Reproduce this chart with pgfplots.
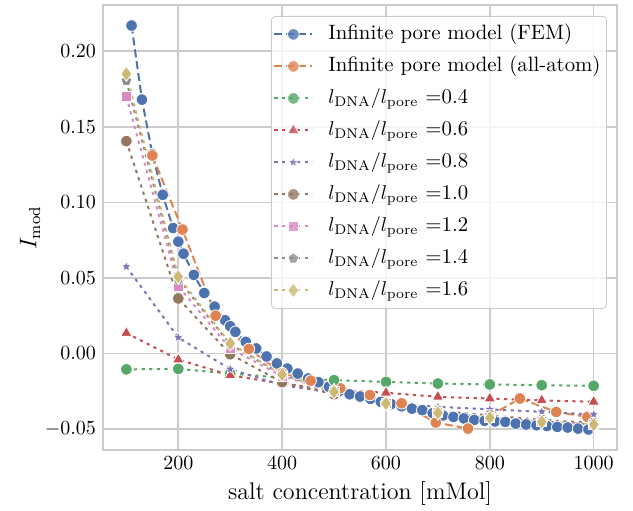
\documentclass[border=0pt]{standalone}
\usepackage{pgfplots}
\pgfplotsset{compat=1.18}
\usetikzlibrary{plotmarks}
\definecolor{cB}{HTML}{4C72B0}
\definecolor{cO}{HTML}{DD8452}
\definecolor{cG}{HTML}{55A868}
\definecolor{cR}{HTML}{C44E52}
\definecolor{cP}{HTML}{8172B3}
\definecolor{cN}{HTML}{937860}
\definecolor{cK}{HTML}{DA8BC3}
\definecolor{cY}{HTML}{8C8C8C}
\definecolor{cD}{HTML}{CCB974}
\definecolor{gridc}{HTML}{CCCCCC}
\newcommand\fs{\fontsize{10.4}{12.5}\selectfont}
\newcommand\fl{\fontsize{12}{14.4}\selectfont}
\pgfdeclareplotmark{fstar}{%
 \pgfpathmoveto{\pgfpointpolar{90}{\pgfplotmarksize}}%
 \pgfpathlineto{\pgfpointpolar{126}{0.45\pgfplotmarksize}}%
 \pgfpathlineto{\pgfpointpolar{162}{\pgfplotmarksize}}%
 \pgfpathlineto{\pgfpointpolar{198}{0.45\pgfplotmarksize}}%
 \pgfpathlineto{\pgfpointpolar{234}{\pgfplotmarksize}}%
 \pgfpathlineto{\pgfpointpolar{270}{0.45\pgfplotmarksize}}%
 \pgfpathlineto{\pgfpointpolar{306}{\pgfplotmarksize}}%
 \pgfpathlineto{\pgfpointpolar{342}{0.45\pgfplotmarksize}}%
 \pgfpathlineto{\pgfpointpolar{18}{\pgfplotmarksize}}%
 \pgfpathlineto{\pgfpointpolar{54}{0.45\pgfplotmarksize}}%
 \pgfpathclose\pgfusepathqfillstroke}
\begin{document}
\begin{tikzpicture}
\begin{axis}[
  scale only axis, width=257pt, height=222.5pt,
  xmin=55, xmax=1045, ymin=-0.0639, ymax=0.2306,
  xtick={200,400,600,800,1000},
  ytick={-0.05,0,0.05,0.1,0.15,0.2},
  xticklabel style={/pgf/number format/1000 sep={}},
  yticklabel style={/pgf/number format/.cd, fixed, fixed zerofill, precision=2},
  scaled y ticks=false,
  grid=major, major grid style={gridc, line width=0.8pt},
  axis line style={gridc, line width=0.8pt},
  major tick length=0pt,
  tick label style={font=\fs},
  xlabel={salt concentration [mMol]},
  ylabel={$I_{\mathrm{mod}}$},
  every axis x label/.style={at={(axis description cs:0.5,-0.0966)}, anchor=center, font=\fl},
  every axis y label/.style={at={(axis description cs:-0.142,0.5)}, anchor=center, rotate=90, font=\fl},
  legend style={at={(axis description cs:0.9805,0.9753)}, anchor=north east,
    draw=gridc, rounded corners=2pt, fill=white, fill opacity=0.8, text opacity=1,
    inner sep=1pt, font=\fs,
    nodes={text height=7.5pt, text depth=2.5pt, inner ysep=3pt},
    /tikz/every odd column/.append style={column sep=5.5pt}},
  legend cell align=left,
  legend image code/.code={\draw[mark repeat=2,mark phase=2,#1] plot coordinates {(0pt,0pt) (9.5pt,0pt) (19pt,0pt)};},
  every axis plot/.append style={line width=1pt},
]
\addplot[cB, dash pattern=on 4pt off 2pt, mark=*, mark size=2.9pt, mark options={solid, draw=white, line width=0.4pt, fill=cB}] coordinates {
(110,0.217)(130,0.168)(150,0.132)(170,0.105)(190,0.083)(200,0.074)(210,0.066)(230,0.052)(250,0.040)(270,0.031)(290,0.022)(300,0.018)(310,0.0143)(330,0.0077)(350,0.0033)(370,-0.002)(390,-0.0066)(410,-0.010)(430,-0.0133)(450,-0.0166)(470,-0.019)(490,-0.022)(510,-0.0250)(530,-0.0270)(550,-0.0285)(570,-0.0300)(590,-0.0320)(610,-0.0335)(630,-0.0349)(650,-0.0365)(670,-0.0375)(690,-0.0395)(710,-0.041)(730,-0.042)(750,-0.043)(770,-0.0440)(790,-0.0445)(810,-0.0450)(830,-0.0453)(850,-0.0464)(870,-0.047)(890,-0.0475)(910,-0.0480)(930,-0.0486)(950,-0.049)(970,-0.0497)(990,-0.0503)};
\addlegendentry{Infinite pore model (FEM)}
\addplot[cO, dash pattern=on 4pt off 2pt, mark=*, mark size=2.9pt, mark options={solid, draw=white, line width=0.4pt, fill=cO}] coordinates {
(150,0.131)(208,0.082)(272,0.025)(336,0.003)(400,-0.013)(455,-0.018)(512,-0.023)(569,-0.0275)(630,-0.033)(696,-0.0457)(758,-0.0497)(858,-0.0298)(928,-0.0387)(988,-0.042)};
\addlegendentry{Infinite pore model (all-atom)}
\addplot[cG, dash pattern=on 1.6pt off 2.2pt, mark=*, mark size=2.9pt, mark options={solid, draw=white, line width=0.4pt, fill=cG}] coordinates {
(100,-0.0105)(200,-0.0102)(300,-0.0133)(400,-0.016)(500,-0.0177)(600,-0.0188)(700,-0.0199)(800,-0.0205)(900,-0.021)(1000,-0.0214)};
\addlegendentry{$l_{\mathrm{DNA}}/l_{\mathrm{pore}}$ =0.4}
\addplot[cR, dash pattern=on 1.6pt off 2.2pt, mark=triangle*, mark size=3.3pt, mark options={solid, draw=white, line width=0.4pt, fill=cR}] coordinates {
(100,0.0135)(200,-0.004)(300,-0.0144)(400,-0.020)(500,-0.024)(600,-0.026)(700,-0.0287)(800,-0.0298)(900,-0.031)(1000,-0.032)};
\addlegendentry{$l_{\mathrm{DNA}}/l_{\mathrm{pore}}$ =0.6}
\addplot[cP, dash pattern=on 1.6pt off 2.2pt, mark=fstar, mark size=2.6pt, mark options={solid, draw=white, line width=0.3pt, fill=cP}] coordinates {
(100,0.0574)(200,0.0106)(300,-0.0104)(400,-0.021)(500,-0.026)(600,-0.033)(700,-0.0353)(800,-0.037)(900,-0.0386)(1000,-0.0404)};
\addlegendentry{$l_{\mathrm{DNA}}/l_{\mathrm{pore}}$ =0.8}
\addplot[cN, dash pattern=on 1.6pt off 2.2pt, mark=*, mark size=2.9pt, mark options={solid, draw=white, line width=0.4pt, fill=cN}] coordinates {
(100,0.1405)(200,0.0364)(300,-0.0005)(400,-0.019)(500,-0.027)(600,-0.033)(700,-0.038)(800,-0.041)(900,-0.044)(1000,-0.046)};
\addlegendentry{$l_{\mathrm{DNA}}/l_{\mathrm{pore}}$ =1.0}
\addplot[cK, dash pattern=on 1.6pt off 2.2pt, mark=square*, mark size=2.5pt, mark options={solid, draw=white, line width=0.4pt, fill=cK}] coordinates {
(100,0.170)(200,0.0446)(300,0.0033)(400,-0.015)(500,-0.025)(600,-0.033)(700,-0.039)(800,-0.042)(900,-0.045)(1000,-0.047)};
\addlegendentry{$l_{\mathrm{DNA}}/l_{\mathrm{pore}}$ =1.2}
\addplot[cY, dash pattern=on 1.6pt off 2.2pt, mark=pentagon*, mark size=2.8pt, mark options={solid, draw=white, line width=0.4pt, fill=cY}] coordinates {
(100,0.1805)(200,0.049)(300,0.006)(400,-0.014)(500,-0.025)(600,-0.033)(700,-0.039)(800,-0.0425)(900,-0.045)(1000,-0.047)};
\addlegendentry{$l_{\mathrm{DNA}}/l_{\mathrm{pore}}$ =1.4}
\addplot[cD, dash pattern=on 1.6pt off 2.2pt, mark=diamond*, mark size=3.7pt, mark options={solid, draw=white, line width=0.4pt, fill=cD}] coordinates {
(100,0.185)(200,0.0508)(300,0.0066)(400,-0.0139)(500,-0.0254)(600,-0.0331)(700,-0.0393)(800,-0.0426)(900,-0.0453)(1000,-0.047)};
\addlegendentry{$l_{\mathrm{DNA}}/l_{\mathrm{pore}}$ =1.6}
\end{axis}
\pgfresetboundingbox
\path ([shift={(-51.5pt,-30pt)}]current axis.south west) rectangle ([shift={(8pt,2.5pt)}]current axis.north east);
\end{tikzpicture}
\end{document}
